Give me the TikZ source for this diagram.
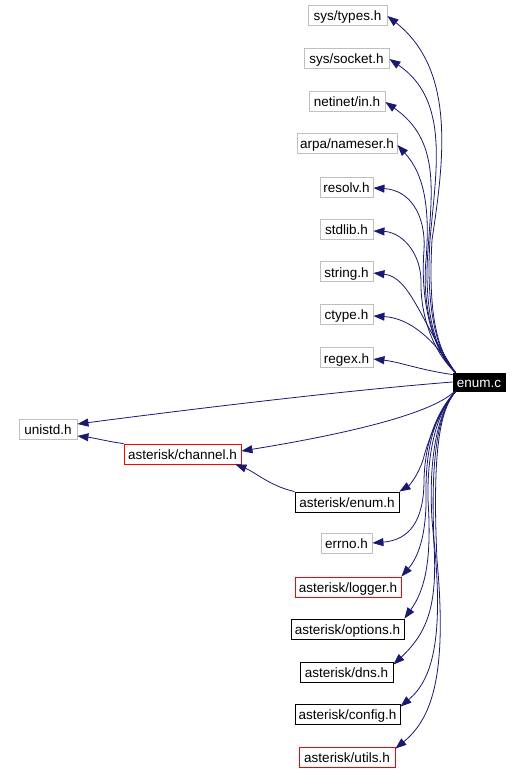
\documentclass[tikz,border=0pt]{standalone}
\usepackage{fontspec}
\setmainfont{Liberation Sans}
\usetikzlibrary{arrows.meta}
\definecolor{edgeblue}{RGB}{25,25,112}
\definecolor{boxgray}{RGB}{191,191,191}
\tikzset{
  hbox/.style={draw, rectangle, inner sep=0pt, minimum height=20pt, line width=0.9pt,
    font=\fontsize{13.5}{15}\selectfont, text=black, text height=11.5pt, text depth=0.5pt},
  gbox/.style={hbox, draw=boxgray},
  kbox/.style={hbox, draw=black},
  rbox/.style={hbox, draw=red},
  mainbox/.style={hbox, draw=black, fill=black, text=white, minimum height=18pt},
  edge/.style={draw=edgeblue, line width=0.8pt, -{Triangle[length=11pt,width=8pt]}, color=edgeblue}
}
\begin{document}
\begin{tikzpicture}[x=1pt,y=-1pt]
\useasboundingbox (0,0) rectangle (521,772);
% nodes
\node[gbox, minimum width=79pt] (types) at (347.5,15) {sys/types.h};
\node[gbox, minimum width=85pt] (socket) at (346.5,58) {sys/socket.h};
\node[gbox, minimum width=76pt] (netinet) at (347,101) {netinet/in.h};
\node[gbox, minimum width=100pt] (arpa) at (347,143) {arpa/nameser.h};
\node[gbox, minimum width=53pt] (resolv) at (346.5,187) {resolv.h};
\node[gbox, minimum width=53pt] (stdlib) at (346.5,229) {stdlib.h};
\node[gbox, minimum width=53pt] (string) at (346.5,271.5) {string.h};
\node[gbox, minimum width=53pt] (ctype) at (346.5,314) {ctype.h};
\node[gbox, minimum width=53pt] (regex) at (346.5,357.5) {regex.h};
\node[mainbox, minimum width=52pt] (enum) at (479,382) {enum.c};
\node[gbox, minimum width=58pt] (unistd) at (48,429) {unistd.h};
\node[rbox, minimum width=117pt] (channel) at (182.5,454) {asterisk/channel.h};
\node[kbox, minimum width=104pt] (enumh) at (347,502) {asterisk/enum.h};
\node[gbox, minimum width=51pt] (errno) at (346.5,543) {errno.h};
\node[rbox, minimum width=106pt] (logger) at (348,587) {asterisk/logger.h};
\node[kbox, minimum width=113pt] (options) at (347.5,629) {asterisk/options.h};
\node[kbox, minimum width=93pt] (dns) at (346.5,672) {asterisk/dns.h};
\node[kbox, minimum width=105pt] (config) at (347.5,714) {asterisk/config.h};
\node[rbox, minimum width=96pt] (utils) at (347,757) {asterisk/utils.h};
% upward edges
\draw[edge] ([xshift=3pt]enum.north west) .. controls (436,350) and (428,310) .. (432,240) .. controls (444,160) and (456,70) .. ([yshift=-1pt]types.east);
\draw[edge] ([xshift=3pt]enum.north west) .. controls (434,350) and (426,300) .. (430,240) .. controls (436,170) and (450,100) .. ([yshift=-1pt]socket.east);
\draw[edge] ([xshift=3pt]enum.north west) .. controls (432,350) and (424,300) .. (428,250) .. controls (432,190) and (440,140) .. ([yshift=-1pt]netinet.east);
\draw[edge] ([xshift=3pt]enum.north west) .. controls (432,350) and (422,300) .. (426,260) .. controls (430,210) and (425,175) .. ([yshift=-2pt]arpa.east);
\draw[edge] ([xshift=3pt]enum.north west) .. controls (432,350) and (420,300) .. (424,250) .. controls (426,215) and (410,190) .. ([yshift=-1pt]resolv.east);
\draw[edge] ([xshift=3pt]enum.north west) .. controls (436,355) and (420,320) .. (421,280) .. controls (420,250) and (400,232) .. ([yshift=-2pt]stdlib.east);
\draw[edge] ([xshift=3pt]enum.north west) .. controls (420,320) and (410,277) .. ([yshift=-1.5pt]string.east);
\draw[edge] ([xshift=2pt]enum.north west) .. controls (435,340) and (410,318) .. ([yshift=-2pt]ctype.east);
\draw[edge] ([yshift=-2pt]enum.north west) .. controls (420,370) and (400,362) .. ([yshift=-1.5pt]regex.east);
% horizontal-ish edges
\draw[edge] (enum.west) .. controls (350,390) and (200,408) .. ([yshift=5pt]unistd.east);
\draw[edge] ([xshift=2pt]enum.south west) .. controls (430,415) and (340,435) .. ([yshift=3pt]channel.east);
% downward edges
\draw[edge] ([xshift=3pt]enum.south west) .. controls (440,410) and (428,440) .. (423,460) .. controls (418,475) and (410,485) .. (enumh.north east);
\draw[edge] ([xshift=3pt]enum.south west) .. controls (438,410) and (425,440) .. (424,480) .. controls (424,520) and (410,540) .. (errno.east);
\draw[edge] ([xshift=3pt]enum.south west) .. controls (438,410) and (426,440) .. (426,490) .. controls (427,530) and (420,555) .. (logger.north east);
\draw[edge] ([xshift=3pt]enum.south west) .. controls (439,410) and (427,445) .. (428,500) .. controls (432,560) and (425,590) .. (options.north east);
\draw[edge] ([xshift=3pt]enum.south west) .. controls (440,410) and (428,450) .. (432,520) .. controls (440,600) and (430,630) .. ([yshift=-3pt]dns.north east);
\draw[edge] ([xshift=3pt]enum.south west) .. controls (440,410) and (430,450) .. (434,540) .. controls (444,640) and (432,680) .. ([yshift=-3pt]config.north east);
\draw[edge] ([xshift=3pt]enum.south west) .. controls (440,410) and (432,450) .. (437,560) .. controls (448,680) and (430,720) .. ([yshift=-2pt]utils.north east);
% other edges
\draw[edge] (channel.north west) .. controls (110,442) and (95,438) .. ([yshift=-7pt]unistd.east);
\draw[edge] (enumh.north west) .. controls (270,486) and (255,472) .. ([xshift=-6pt]channel.south east);
\end{tikzpicture}
\end{document}
